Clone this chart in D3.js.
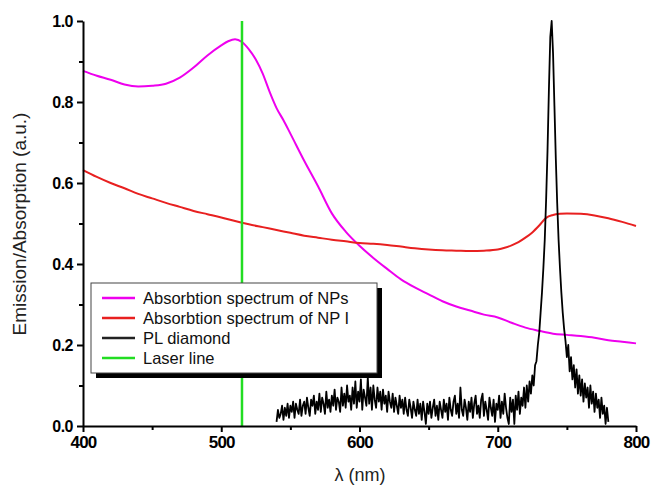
<!DOCTYPE html>
<html>
<head>
<meta charset="utf-8">
<script src="https://cdn.jsdelivr.net/npm/d3@7"></script>
<style>
  body { margin: 0; background: #fff; }
  svg { font-family: "Liberation Sans", Arial, sans-serif; }
</style>
</head>
<body>
<svg id="chart" width="656" height="487"></svg>
<script>
// absorption of NPs (magenta)
const npsNm = [400,410,420,430,440,450,460,470,480,490,500,505,510,515,520,525,530,535,540,545,550,560,570,580,590,600,610,620,630,640,650,660,670,680,690,700,710,720,730,740,750,760,770,780,790,800];
const npsVal = [.877,.865,.855,.843,.838,.840,.845,.860,.885,.915,.940,.950,.955,.948,.930,.905,.870,.825,.785,.755,.722,.655,.592,.525,.480,.445,.415,.388,.362,.342,.325,.308,.295,.285,.275,.268,.255,.243,.235,.228,.225,.222,.218,.212,.208,.204];

// absorption of NP I (red)
const npiNm = [400,410,420,430,440,450,460,470,480,490,500,510,520,530,540,550,560,570,580,590,600,610,620,630,640,650,660,670,680,690,700,705,710,715,720,725,730,735,740,745,750,760,770,780,790,800];
const npiVal = [.632,.615,.600,.587,.573,.562,.551,.541,.531,.523,.515,.506,.498,.491,.484,.477,.470,.465,.460,.456,.452,.450,.447,.443,.439,.436,.434,.433,.432,.433,.436,.440,.446,.454,.465,.478,.495,.514,.521,.524,.525,.524,.520,.513,.504,.494];

// PL diamond (black), one value per nm from 540 nm
const plStart = 540;
const plVal = [
  .010,.040,.020,.030,.050,.015,.045,.025,.055,.020,
  .050,.035,.060,.020,.055,.040,.030,.065,.025,.050,
  .060,.030,.070,.045,.025,.065,.050,.075,.030,.060,
  .040,.080,.035,.070,.055,.030,.085,.045,.065,.035,
  .075,.050,.090,.040,.070,.060,.035,.095,.050,.080,
  .045,.100,.060,.075,.040,.095,.055,.110,.045,.085,
  .060,.115,.040,.090,.070,.050,.120,.055,.095,.040,
  .100,.065,.045,.095,.060,.085,.040,.090,.055,.075,
  .035,.085,.060,.045,.080,.035,.070,.050,.030,.075,
  .045,.065,.030,.070,.040,.025,.065,.045,.020,.060,
  .040,.025,.065,.030,.055,.015,.060,.035,.005,.055,
  .030,.060,.020,.045,.065,.025,.050,.015,.060,.040,
  .020,.065,.035,.055,.015,.070,.040,.025,.060,.075,
  .030,.055,.020,.095,.040,.025,.065,.045,.015,.060,
  .035,.070,.020,.055,.075,.030,.050,.020,.065,.080,
  .025,.060,.040,.015,.070,.045,.025,.065,.010,.055,
  .040,.075,.020,.060,.030,.080,.045,.020,.005,.070,
  .035,.065,.005,.075,.040,.085,.030,.070,.050,.095,
  .045,.100,.060,.110,.080,.125,.100,.150,.160,.200,
  .230,.280,.330,.390,.460,.560,.680,.830,.960,1.000,
  .920,.790,.660,.550,.460,.390,.330,.280,.240,.210,
  .170,.200,.135,.170,.115,.150,.095,.140,.080,.125,
  .075,.115,.060,.105,.070,.095,.045,.100,.055,.085,
  .035,.080,.045,.065,.020,.070,.030,.050,.005,.045,
  .010
];

const laserNm = 515;

const xTicks = [400,500,600,700,800];
const xMinor = [450,550,650,750];
const yTicks = [0,0.2,0.4,0.6,0.8,1.0];
const yMinor = [0.1,0.3,0.5,0.7,0.9];

const legendItems = [
  {label: "Absorbtion spectrum of NPs", color: "#ee00ee"},
  {label: "Absorbtion spectrum of NP I", color: "#e82020"},
  {label: "PL diamond", color: "#222"},
  {label: "Laser line", color: "#22dd22"}
];

const svg = d3.select("#chart");

const x = d3.scaleLinear().domain([400, 800]).range([83, 636]);
const y = d3.scaleLinear().domain([0, 1]).range([426, 21]);

const line = d3.line().x(d => x(d[0])).y(d => y(d[1]));

const plot = svg.append("g");

// magenta
plot.append("path")
  .datum(npsNm.map((n, i) => [n, npsVal[i]]))
  .attr("d", line.curve(d3.curveMonotoneX))
  .attr("fill", "none")
  .attr("stroke", "#ee00ee")
  .attr("stroke-width", 2);

// red
plot.append("path")
  .datum(npiNm.map((n, i) => [n, npiVal[i]]))
  .attr("d", line.curve(d3.curveMonotoneX))
  .attr("fill", "none")
  .attr("stroke", "#e82020")
  .attr("stroke-width", 2);

// PL
plot.append("path")
  .datum(plVal.map((v, i) => [plStart + i, v]))
  .attr("d", line.curve(d3.curveLinear))
  .attr("fill", "none")
  .attr("stroke", "#000")
  .attr("stroke-width", 1.8)
  .attr("stroke-linejoin", "round");

// laser line
plot.append("line")
  .attr("x1", x(laserNm)).attr("x2", x(laserNm))
  .attr("y1", y(0)).attr("y2", y(1))
  .attr("stroke", "#22dd22")
  .attr("stroke-width", 2.5);

// axes
const xAxis = svg.append("g")
  .attr("transform", `translate(0,${y(0)})`)
  .call(d3.axisBottom(x).tickValues(xTicks).tickSize(6).tickSizeOuter(0).tickPadding(4));
svg.append("g")
  .attr("transform", `translate(0,${y(0)})`)
  .call(d3.axisBottom(x).tickValues(xMinor).tickSize(4).tickFormat(""))
  .select(".domain").remove();

const yAxis = svg.append("g")
  .attr("transform", `translate(${x(400)},0)`)
  .call(d3.axisLeft(y).tickValues(yTicks).tickSize(6).tickSizeOuter(0).tickPadding(4).tickFormat(d3.format(".1f")));
svg.append("g")
  .attr("transform", `translate(${x(400)},0)`)
  .call(d3.axisLeft(y).tickValues(yMinor).tickSize(4).tickFormat(""))
  .select(".domain").remove();

svg.selectAll(".domain").attr("stroke-width", 2).attr("stroke", "#000");
svg.selectAll(".tick line").attr("stroke-width", 2).attr("stroke", "#000");
xAxis.selectAll("text")
  .style("font-family", "'Liberation Sans', Arial, sans-serif")
  .style("font-size", "17px").style("font-weight", "bold")
  .style("letter-spacing", "-0.8px").attr("fill", "#000");
yAxis.selectAll("text")
  .style("font-family", "'Liberation Sans', Arial, sans-serif")
  .style("font-size", "16px").style("font-weight", "bold")
  .style("letter-spacing", "-0.5px").attr("fill", "#000");

// axis titles
svg.append("text")
  .attr("transform", "translate(26,224) rotate(-90)")
  .attr("text-anchor", "middle")
  .style("font-size", "19px")
  .attr("fill", "#222")
  .text("Emission/Absorption (a.u.)");

svg.append("text")
  .attr("x", 360).attr("y", 481)
  .attr("text-anchor", "middle")
  .style("font-size", "18px")
  .attr("fill", "#222")
  .text("λ (nm)");

// legend
const lg = svg.append("g");
const box = {x: 91, y: 283, w: 286, h: 90};
lg.append("rect")
  .attr("x", box.x + 5).attr("y", box.y + 5)
  .attr("width", box.w).attr("height", box.h)
  .attr("fill", "#000");
lg.append("rect")
  .attr("x", box.x).attr("y", box.y)
  .attr("width", box.w).attr("height", box.h)
  .attr("fill", "#fff").attr("stroke", "#444").attr("stroke-width", 1);

legendItems.forEach((d, i) => {
  const cy = 298 + i * 20;
  lg.append("line")
    .attr("x1", 102).attr("x2", 135)
    .attr("y1", cy).attr("y2", cy)
    .attr("stroke", d.color).attr("stroke-width", 2.5);
  lg.append("text")
    .attr("x", 143).attr("y", cy + 6)
    .style("font-size", "16.5px")
    .attr("fill", "#111")
    .text(d.label);
});
</script>
</body>
</html>
